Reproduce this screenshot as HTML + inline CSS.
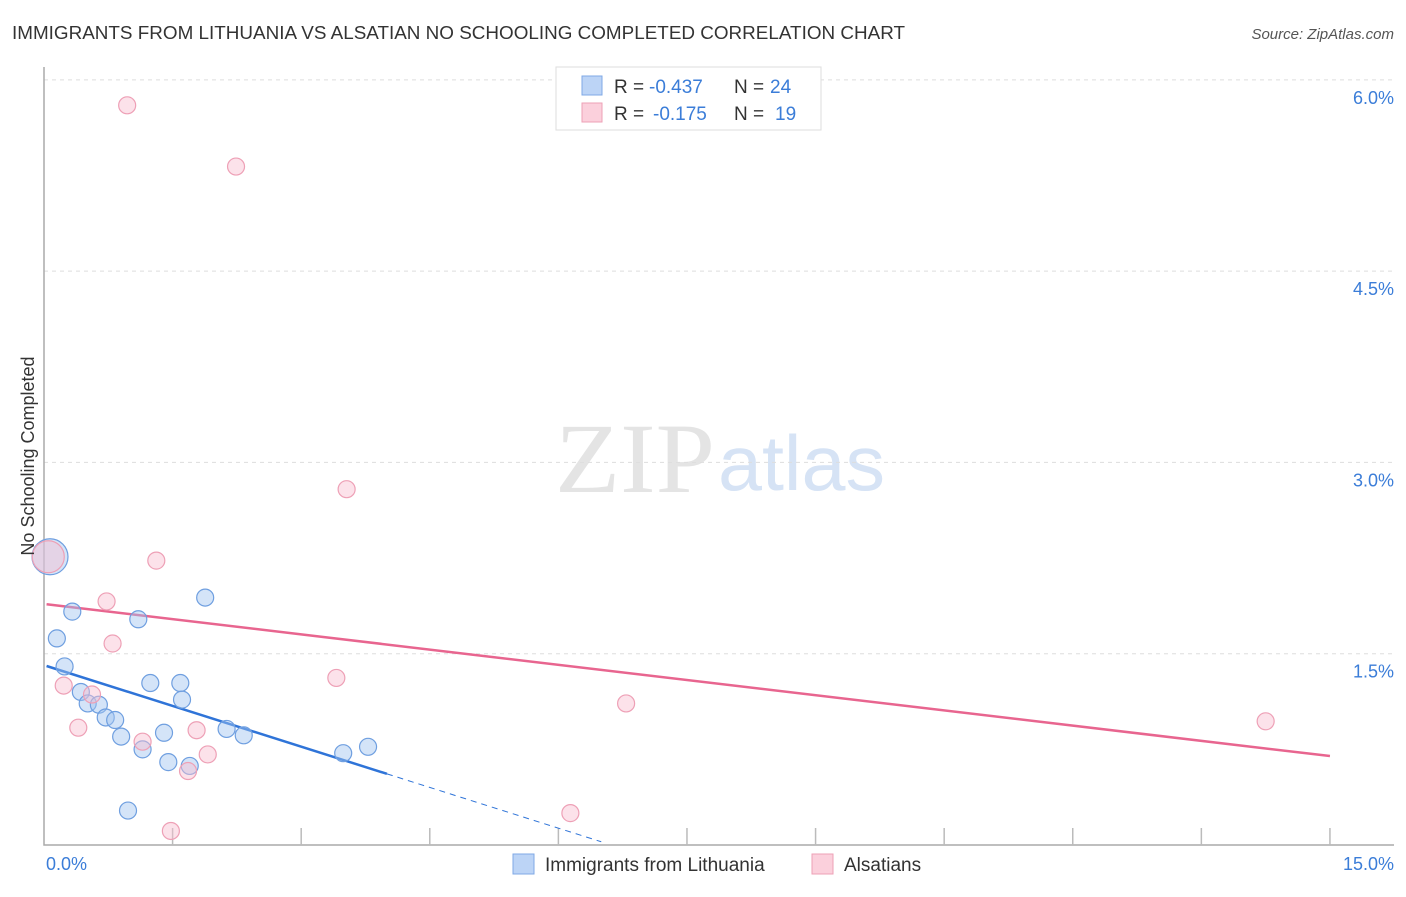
<!DOCTYPE html>
<html><head><meta charset="utf-8"><style>
body{margin:0;background:#fff;font-family:"Liberation Sans",sans-serif}
</style></head><body>
<svg id="chart" width="1406" height="892" xmlns="http://www.w3.org/2000/svg" font-family="Liberation Sans, sans-serif">
<text x="12" y="39" font-size="18" fill="#333" textLength="893" lengthAdjust="spacingAndGlyphs">IMMIGRANTS FROM LITHUANIA VS ALSATIAN NO SCHOOLING COMPLETED CORRELATION CHART</text>
<text x="1394" y="39" font-size="15" fill="#555" text-anchor="end" font-style="italic">Source: ZipAtlas.com</text>
<text x="555" y="492" font-size="100" fill="#e4e4e4" textLength="160" lengthAdjust="spacingAndGlyphs" style="font-family:'Liberation Serif',serif">ZIP</text>
<text x="718" y="490" font-size="78" fill="#d6e3f5" textLength="167" lengthAdjust="spacingAndGlyphs">atlas</text>
<g id="grid"></g><g id="axes"></g><g id="lines"></g><g id="points"></g>
<text transform="translate(34,456) rotate(-90)" font-size="18" fill="#333" text-anchor="middle">No Schooling Completed</text>
<text x="46" y="870" font-size="18" fill="#3b7dd8">0.0%</text>
<text x="1394" y="870" font-size="18" fill="#3b7dd8" text-anchor="end">15.0%</text>
<g>
<rect x="556" y="67" width="265" height="63" fill="#fff" stroke="#ddd"/>
<rect x="582" y="76" width="20" height="19" fill="#bcd4f6" stroke="#7fa8e6"/>
<rect x="582" y="103" width="20" height="19" fill="#fbd0dc" stroke="#eea0b6"/>
<text x="614" y="93" font-size="19" fill="#333">R =</text>
<text x="649" y="93" font-size="19" fill="#3b7dd8">-0.437</text>
<text x="734" y="93" font-size="19" fill="#333">N =</text>
<text x="770" y="93" font-size="19" fill="#3b7dd8">24</text>
<text x="614" y="120" font-size="19" fill="#333">R =</text>
<text x="653" y="120" font-size="19" fill="#3b7dd8">-0.175</text>
<text x="734" y="120" font-size="19" fill="#333">N =</text>
<text x="775" y="120" font-size="19" fill="#3b7dd8">19</text>
</g>
<g>
<rect x="513" y="854" width="21" height="20" fill="#bcd4f6" stroke="#7fa8e6"/>
<text x="545" y="871" font-size="19" fill="#333">Immigrants from Lithuania</text>
<rect x="812" y="854" width="21" height="20" fill="#fbd0dc" stroke="#eea0b6"/>
<text x="844" y="871" font-size="19" fill="#333">Alsatians</text>
</g>
</svg>
<script>
const blueX=[0.07,0.33,0.15,0.24,0.43,0.51,0.64,0.72,0.83,0.90,1.15,1.10,1.24,1.40,1.45,1.59,1.61,1.70,1.88,2.13,2.33,3.49,3.78,0.98];
const blueY=[2.26,1.83,1.62,1.40,1.20,1.11,1.10,1.00,0.98,0.85,0.75,1.77,1.27,0.88,0.65,1.27,1.14,0.62,1.94,0.91,0.86,0.72,0.77,0.27];
const pinkX=[0.05,0.97,2.24,3.53,1.31,0.73,0.80,0.23,0.56,0.40,1.15,1.78,1.68,1.91,1.48,3.41,6.79,6.14,14.25];
const pinkY=[2.26,5.80,5.32,2.79,2.23,1.91,1.58,1.25,1.18,0.92,0.81,0.90,0.58,0.71,0.11,1.31,1.11,0.25,0.97];
const yTicks=[1.5,3.0,4.5,6.0];
const yTickLabels=["1.5%","3.0%","4.5%","6.0%"];
const xTicks=[1.5,3,4.5,6,7.5,9,10.5,12,13.5,15];
const blueTrend=[1.41,-0.213];
const pinkTrend=[1.89,-0.0795];
const NS="http://www.w3.org/2000/svg";
const sx=v=>44+v*85.73, sy=v=>845-v*127.53;
function mk(tag,attrs,parent){const e=document.createElementNS(NS,tag);for(const k in attrs)e.setAttribute(k,attrs[k]);document.getElementById(parent).appendChild(e);return e;}
yTicks.forEach((t,i)=>{
 const l=mk('line',{x1:44,x2:1394,y1:sy(t),y2:sy(t),stroke:'#ddd','stroke-dasharray':'4,4'},'grid');
 
 
 const tx=mk('text',{x:1394,y:sy(t)+24,'font-size':18,fill:'#3b7dd8','text-anchor':'end'},'grid');
 tx.textContent=yTickLabels[i];
 
 
});
const ax=mk('path',{d:'M44,67V845H1394',fill:'none',stroke:'#aaa','stroke-width':1.5},'axes');


xTicks.forEach(t=>{
 const l=mk('line',{x1:sx(t),x2:sx(t),y1:828,y2:845,stroke:'#bbb','stroke-width':1.5},'axes');
 
 
});
function f(tr,x){return tr[0]+tr[1]*x;}
let l1=mk('line',{x1:sx(0.03),y1:sy(f(blueTrend,0.03)),x2:sx(4.0),y2:sy(f(blueTrend,4.0)),stroke:'#2f74d8','stroke-width':2.5},'lines');


let l2=mk('line',{x1:sx(4.0),y1:sy(f(blueTrend,4.0)),x2:sx(6.5),y2:sy(f(blueTrend,6.5)),stroke:'#2f74d8','stroke-width':1,'stroke-dasharray':'6,5'},'lines');


let l3=mk('line',{x1:sx(0.03),y1:sy(f(pinkTrend,0.03)),x2:sx(15),y2:sy(f(pinkTrend,15)),stroke:'#e8658f','stroke-width':2.5},'lines');


blueX.forEach((x,i)=>{
 const c=mk('circle',{cx:sx(x),cy:sy(blueY[i]),r:i===0?18:8.5,fill:'rgba(160,195,240,0.45)',stroke:'#6f9fe0','stroke-width':1.2},'points');
 
 
});
pinkX.forEach((x,i)=>{
 const c=mk('circle',{cx:sx(x),cy:sy(pinkY[i]),r:i===0?16:8.5,fill:'rgba(248,190,208,0.45)',stroke:'#eea0b6','stroke-width':1.2},'points');
 
 
});
</script>
</body></html>
